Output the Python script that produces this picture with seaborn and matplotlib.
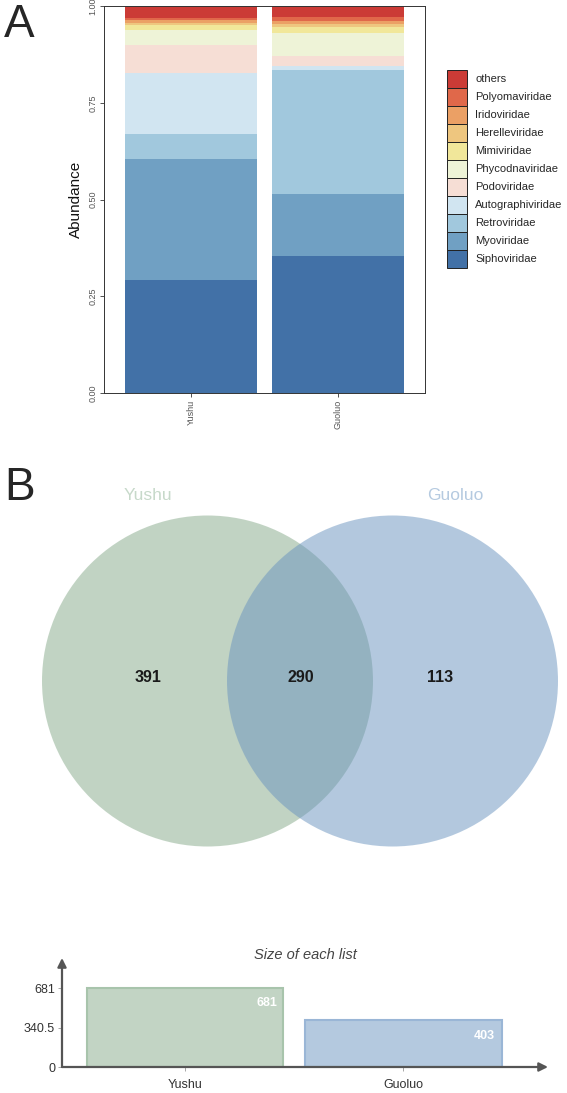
import numpy as np
import pandas as pd
import matplotlib
matplotlib.use("Agg")
import matplotlib.pyplot as plt
from matplotlib.patches import Patch, Circle
import seaborn as sns

# ---------------- data ----------------
sites = ["Yushu", "Guoluo"]
families = ["Siphoviridae", "Myoviridae", "Retroviridae", "Autographiviridae",
            "Podoviridae", "Phycodnaviridae", "Mimiviridae", "Herelleviridae",
            "Iridoviridae", "Polyomaviridae", "others"]
yushu_abund = [0.292, 0.312, 0.064, 0.158, 0.073, 0.039, 0.013, 0.006, 0.007, 0.004, 0.032]
guoluo_abund = [0.354, 0.159, 0.322, 0.011, 0.025, 0.058, 0.018, 0.006, 0.008, 0.010, 0.029]
family_colors = ["#4271A7", "#70A0C3", "#A1C8DD", "#D1E5F1", "#F6DED5", "#EEF3D7",
                 "#F1E79A", "#EEC67F", "#EBA065", "#E0684A", "#CB3B36"]

venn_sets = ["Yushu", "Guoluo"]
venn_only_yushu = 391
venn_shared = 290
venn_only_guoluo = 113
list_sizes = [681, 403]
size_ticks = [0, 340.5, 681]
size_tick_labels = ["0", "340.5", "681"]

# ---------------- style ----------------
sns.set_style("white")
plt.rcParams["font.family"] = ["Liberation Sans", "DejaVu Sans"]

W, H = 567, 1093
fig = plt.figure(figsize=(W / 100, H / 100), dpi=100)


def px_axes(l, t, r, b):
    return fig.add_axes([l / W, 1 - b / H, (r - l) / W, (b - t) / H])


# ---------------- Panel A: stacked bars ----------------
axA = px_axes(104, 6, 425, 393)
rows = []
for s, vals in zip(sites, [yushu_abund, guoluo_abund]):
    cum = np.cumsum(vals)
    for f, v, c in zip(families, vals, cum):
        rows.append({"site": s, "family": f, "value": v, "top": c})
dfA = pd.DataFrame(rows)

for f, col in reversed(list(zip(families, family_colors))):
    sub = dfA[dfA["family"] == f]
    sns.barplot(data=sub, x="site", y="top", order=sites, color=col,
                saturation=1, width=0.9, errorbar=None, ax=axA, linewidth=0)

axA.set_xlim(-0.59, 1.59)
axA.set_ylim(0, 1)
axA.set_yticks([0, 0.25, 0.5, 0.75, 1.0])
axA.set_yticklabels(["0.00", "0.25", "0.50", "0.75", "1.00"])
for sp in axA.spines.values():
    sp.set_visible(True)
    sp.set_color("#333333")
    sp.set_linewidth(0.7)
axA.tick_params(axis="both", which="both", length=3, width=0.6, color="#333333",
                labelcolor="#555555", left=True, bottom=True, pad=1.5)
axA.tick_params(axis="y", labelsize=6.5)
axA.tick_params(axis="x", labelsize=6.5, labelrotation=90)
plt.setp(axA.get_yticklabels(), rotation=90, va="center")
axA.set_xlabel("")
axA.set_ylabel("Abundance", fontsize=11, labelpad=4, color="#111111")

handles = [Patch(facecolor=c, edgecolor="#222222", linewidth=0.7, label=f)
           for f, c in reversed(list(zip(families, family_colors)))]
fs = 8
fs_px = fs * 100 / 72
fig.legend(handles=handles, loc="upper left",
           bbox_to_anchor=(447 / W, 1 - 70 / H), frameon=False,
           borderpad=0, borderaxespad=0, labelspacing=0,
           handlelength=20 / fs_px, handleheight=23.5 / fs_px,
           handletextpad=8 / fs_px, fontsize=fs)

fig.text(4 / W, 1 - 3 / H, "A", fontsize=33, va="top", ha="left")

# ---------------- Panel B: Venn ----------------
fig.text(4 / W, 1 - 466 / H, "B", fontsize=33, va="top", ha="left")
axV = px_axes(0, 460, 567, 880)
axV.set_xlim(0, 567)
axV.set_ylim(880, 460)
axV.axis("off")
axV.add_patch(Circle((207.5, 681), 165.5, facecolor="#85A989", alpha=0.5, lw=0))
axV.add_patch(Circle((392.5, 681), 165.5, facecolor="#6993BF", alpha=0.5, lw=0))
for x, v in zip([148, 301, 440], [venn_only_yushu, venn_shared, venn_only_guoluo]):
    axV.text(x, 678, str(v), ha="center", va="center", fontsize=11.5,
             fontweight="bold", color="#1A1A1A")
axV.text(148, 496, venn_sets[0], ha="center", va="center", fontsize=12.5, color="#C7D9CA")
axV.text(455, 496, venn_sets[1], ha="center", va="center", fontsize=12.5, color="#B5CAE0")

# ---------------- Size of each list ----------------
axS = px_axes(62, 958, 548, 1067)
sns.barplot(x=venn_sets, y=list_sizes, hue=venn_sets, palette=["#C2D4C4", "#B4C9DF"],
            saturation=1, width=0.9, legend=False, ax=axS)
edge_cols = ["#A8C4AC", "#9AB6D6"]
for p, ec in zip(axS.patches, edge_cols):
    p.set_edgecolor(ec)
    p.set_linewidth(1.5)
for i, v in enumerate(list_sizes):
    axS.annotate(str(v), xy=(i + 0.45, v), xytext=(-4.5, -11), textcoords="offset points",
                 ha="right", va="center", color="white", fontsize=9, fontweight="bold")
axS.set_xlim(-0.564, 1.663)
axS.set_ylim(0, 940)
axS.set_yticks(size_ticks)
axS.set_yticklabels(size_tick_labels)
for sp in axS.spines.values():
    sp.set_visible(False)
axS.tick_params(axis="y", length=3, width=0.6, color="#999999", labelsize=9,
                labelcolor="#333333", left=True, pad=2)
axS.tick_params(axis="x", length=3, width=0.6, color="#999999", labelsize=9,
                labelcolor="#333333", bottom=True, pad=6)
axS.set_xlabel("")
axS.set_ylabel("")
axS.annotate("", xy=(1.0, 0), xytext=(0, 0), xycoords="axes fraction",
             arrowprops=dict(arrowstyle="-|>", color="#555555", lw=1.6, mutation_scale=13,
                             shrinkA=0, shrinkB=0), annotation_clip=False)
axS.annotate("", xy=(0, 1.0), xytext=(0, 0), xycoords="axes fraction",
             arrowprops=dict(arrowstyle="-|>", color="#555555", lw=1.6, mutation_scale=13,
                             shrinkA=0, shrinkB=0), annotation_clip=False)
fig.text(305 / W, 1 - 955 / H, "Size of each list", style="italic", fontsize=10.5,
         color="#444444", ha="center", va="center")

fig.savefig("out.png", dpi=100)
